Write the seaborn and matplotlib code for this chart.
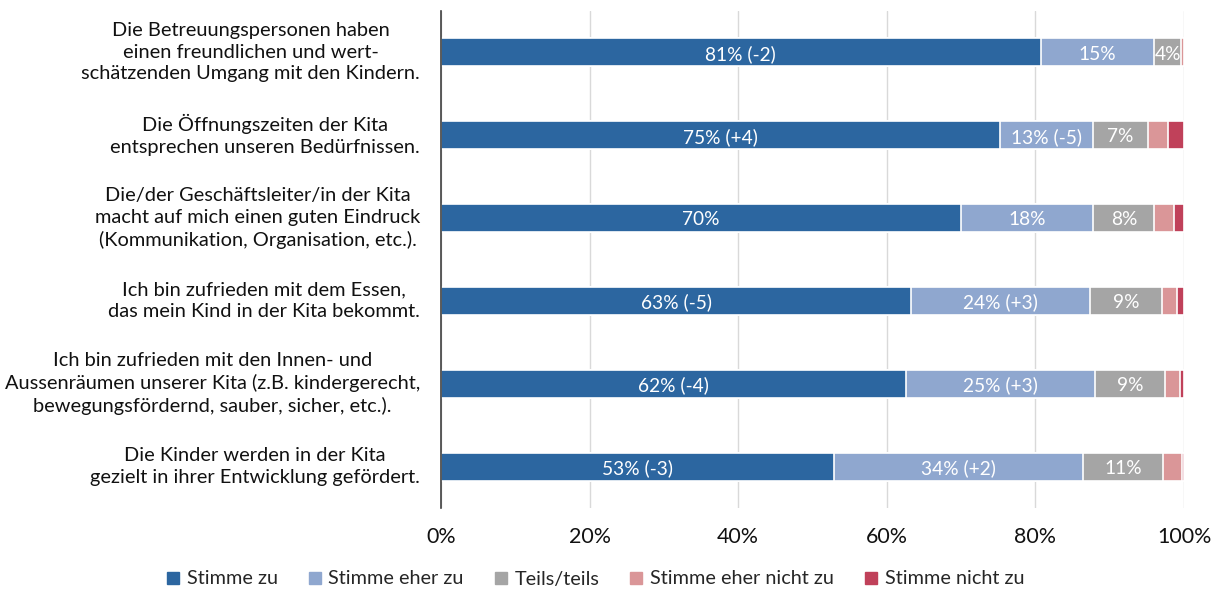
import matplotlib
matplotlib.use("Agg")
import matplotlib.pyplot as plt
from matplotlib.lines import Line2D
from matplotlib.transforms import ScaledTranslation
import numpy as np
import pandas as pd
import seaborn as sns

# Survey statements (y axis)
statements = [
    "Die Betreuungspersonen haben\neinen freundlichen und wert-\nschätzenden Umgang mit den Kindern.",
    "Die Öffnungszeiten der Kita\nentsprechen unseren Bedürfnissen.",
    "Die/der Geschäftsleiter/in der Kita\nmacht auf mich einen guten Eindruck\n(Kommunikation, Organisation, etc.).",
    "Ich bin zufrieden mit dem Essen,\ndas mein Kind in der Kita bekommt.",
    "Ich bin zufrieden mit den Innen- und\nAussenräumen unserer Kita (z.B. kindergerecht,\nbewegungsfördernd, sauber, sicher, etc.).",
    "Die Kinder werden in der Kita\ngezielt in ihrer Entwicklung gefördert.",
]

categories = ["Stimme zu", "Stimme eher zu", "Teils/teils",
              "Stimme eher nicht zu", "Stimme nicht zu"]

# Shares in percent per answer category
stimme_zu = [80.7, 75.2, 70.0, 63.3, 62.6, 52.9]
eher_zu = [15.3, 12.6, 17.8, 24.1, 25.4, 33.5]
teils = [3.6, 7.3, 8.2, 9.6, 9.4, 10.8]
eher_nicht = [0.4, 2.8, 2.7, 2.0, 2.0, 2.5]
nicht_zu = [0.0, 2.1, 1.3, 1.0, 0.6, 0.3]

# Segment labels (share and change versus previous survey)
labels_zu = ["81% (-2)", "75% (+4)", "70%", "63% (-5)", "62% (-4)", "53% (-3)"]
labels_eher_zu = ["15%", "13% (-5)", "18%", "24% (+3)", "25% (+3)", "34% (+2)"]
labels_teils = ["4%", "7%", "8%", "9%", "9%", "11%"]

colors = ["#2C66A0", "#8FA7CF", "#A5A5A5", "#DA9698", "#C0415A"]

series = [stimme_zu, eher_zu, teils, eher_nicht, nicht_zu]
seg_labels = [labels_zu, labels_eher_zu, labels_teils, None, None]

sns.set_theme(style="white")
plt.rcParams["font.family"] = ["Lato", "DejaVu Sans"]

fig = plt.figure(figsize=(12.19, 5.91), dpi=100)
ax = fig.add_axes([441 / 1219, 1 - 508 / 591, 743 / 1219, 497 / 591])

values = np.array(series)
cum = np.cumsum(values, axis=0)
starts = cum - values

# Draw cumulative bars from the outermost category inwards
for i in range(len(categories) - 1, -1, -1):
    df = pd.DataFrame({"statement": statements, "value": cum[i]})
    sns.barplot(data=df, x="value", y="statement", orient="h", ax=ax,
                color=colors[i], saturation=1, width=0.34,
                edgecolor="white", linewidth=1.2, zorder=3)

for i, labs in enumerate(seg_labels):
    if labs is None:
        continue
    for j, lab in enumerate(labs):
        xc = starts[i][j] + values[i][j] / 2
        ax.text(xc, j + 0.02, lab, ha="center", va="center", color="white",
                fontsize=13.8, zorder=5)

ax.set_xlim(0, 100)
ax.set_ylim(len(statements) - 0.5, -0.5)
ax.set_xticks(np.arange(0, 101, 20))
ax.set_xticklabels([f"{v}%" for v in range(0, 101, 20)])
ax.xaxis.grid(True, color="#D9D9D9", linewidth=1, zorder=0)
ax.set_axisbelow(True)
ax.set_xlabel("")
ax.set_ylabel("")

for side in ["top", "right", "bottom"]:
    ax.spines[side].set_visible(False)
ax.spines["left"].set_color("#404040")
ax.spines["left"].set_linewidth(1.2)
ax.spines["left"].set_zorder(6)

ax.tick_params(axis="y", length=0, pad=15, labelsize=14.4, colors="#111111")
ax.tick_params(axis="x", length=0, pad=13.5, labelsize=15.4, colors="#111111")
lift = ScaledTranslation(0, 4 / 100, fig.dpi_scale_trans)
for t in ax.get_yticklabels():
    t.set_multialignment("center")
    t.set_linespacing(1.33)
    t.set_transform(t.get_transform() + lift)

handles = [Line2D([0], [0], marker="s", linestyle="none", markersize=8,
                  markerfacecolor=c, markeredgecolor=c) for c in colors]
fig.legend(handles, categories, loc="center", bbox_to_anchor=(595 / 1219, 1 - 579 / 591),
           ncol=5, frameon=False, fontsize=14.3, handlelength=0.7,
           handletextpad=0.35, columnspacing=1.5)

fig.savefig("out.png", dpi=100)
